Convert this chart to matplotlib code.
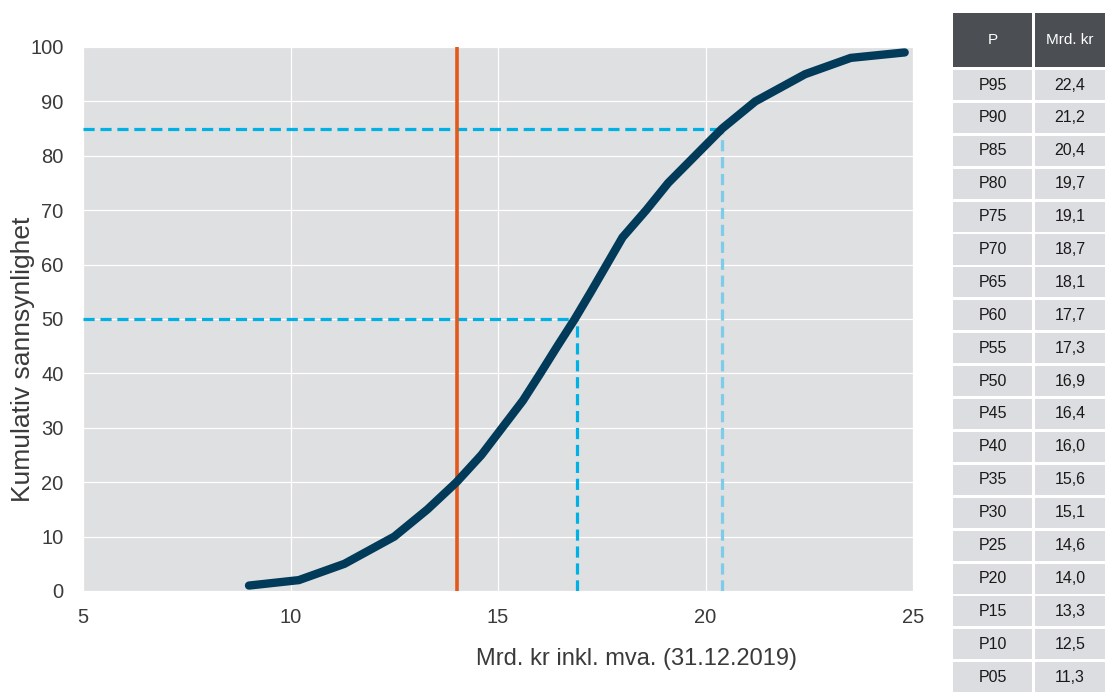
import matplotlib.pyplot as plt
from matplotlib.patches import Rectangle

plt.rcParams['font.family'] = ['Liberation Sans', 'DejaVu Sans']

# kumulativ fordeling (x = mrd. kr, y = sannsynlighet i %)
kostnad = [9.0, 10.2, 11.3, 12.5, 13.3, 14.0, 14.6, 15.1, 15.6, 16.02, 16.43,
           16.85, 17.24, 17.62, 18.0, 18.57, 19.1, 19.75, 20.4, 21.2, 22.4, 23.5, 24.8]
sannsynlighet = [1, 2, 5, 10, 15, 20, 25, 30, 35, 40, 45,
                 50, 55, 60, 65, 70, 75, 80, 85, 90, 95, 98, 99]

ramme = 14.0
p50 = 16.9
p85 = 20.4

tabell_p = ['P95', 'P90', 'P85', 'P80', 'P75', 'P70', 'P65', 'P60', 'P55', 'P50',
            'P45', 'P40', 'P35', 'P30', 'P25', 'P20', 'P15', 'P10', 'P05']
tabell_verdi = ['22,4', '21,2', '20,4', '19,7', '19,1', '18,7', '18,1', '17,7', '17,3', '16,9',
                '16,4', '16,0', '15,6', '15,1', '14,6', '14,0', '13,3', '12,5', '11,3']

tekstfarge = '#3a3a3a'
W, H = 1105, 696
fig = plt.figure(figsize=(W / 100, H / 100), dpi=100)
ax = fig.add_axes([83 / W, 1 - 591 / H, 830 / W, 544 / H])
ax.set_facecolor('#dfe0e2')

ax.set_xlim(5, 25)
ax.set_ylim(0, 100)
ax.set_xticks([5, 10, 15, 20, 25])
ax.set_yticks(range(0, 101, 10))
ax.grid(True, color='white', linewidth=0.9)
ax.set_axisbelow(True)
for s in ax.spines.values():
    s.set_visible(False)
ax.tick_params(length=0, labelsize=14.5, colors=tekstfarge)
ax.tick_params(axis='y', pad=14)
ax.tick_params(axis='x', pad=12)

# stiplede hjelpelinjer
dash = dict(linewidth=2.3, dashes=(3.5, 1.8))
ax.plot([5, p50], [50, 50], color='#00b2e3', **dash, zorder=3)
ax.plot([p50, p50], [0, 50], color='#00b2e3', **dash, zorder=3)
ax.plot([5, p85], [85, 85], color='#00b2e3', **dash, zorder=3)
ax.plot([p85, p85], [0, 85], color='#7ecbea', **dash, zorder=3)

ax.axvline(ramme, color='#e2591b', linewidth=2.6, zorder=4)

ax.plot(kostnad, sannsynlighet, color='#023a5a', linewidth=6,
        solid_capstyle='round', solid_joinstyle='miter', zorder=5)

fig.text(23 / W, 1 - 359 / H, 'Kumulativ sannsynlighet', fontsize=19, color=tekstfarge,
         rotation=90, ha='center', va='center')
fig.text(637 / W, 1 - 659 / H, 'Mrd. kr inkl. mva. (31.12.2019)', fontsize=17,
         color=tekstfarge, ha='center', va='center')

# tabell til høyre
kol_x = [(953, 1032), (1035, 1105)]
top_h, bot_h = 13, 67
rad_start, rad_pitch, rad_h = 70, 32.9, 30

def celle(x0, x1, y0, y1, farge):
    fig.patches.append(Rectangle((x0 / W, 1 - y1 / H), (x1 - x0) / W, (y1 - y0) / H,
                                 transform=fig.transFigure, facecolor=farge,
                                 edgecolor='none'))

for (x0, x1), tekst in zip(kol_x, ['P', 'Mrd. kr']):
    celle(x0, x1, top_h, bot_h, '#4b4e53')
    fig.text((x0 + x1) / 2 / W, 1 - (top_h + bot_h) / 2 / H, tekst, color='white',
             fontsize=11, ha='center', va='center')

for i, (p, v) in enumerate(zip(tabell_p, tabell_verdi)):
    y0 = rad_start + i * rad_pitch
    y1 = y0 + rad_h
    for (x0, x1), tekst in zip(kol_x, [p, v]):
        celle(x0, x1, y0, y1, '#dcdde0')
        fig.text((x0 + x1) / 2 / W, 1 - (y0 + y1) / 2 / H, tekst, color='#1a1a1a',
                 fontsize=11.5, ha='center', va='center')

fig.savefig('out.png', dpi=100)
